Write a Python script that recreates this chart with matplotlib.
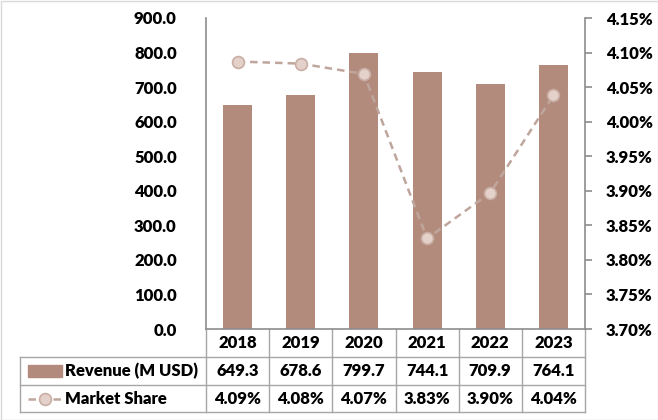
import numpy as np
from matplotlib import pyplot as plt
from matplotlib.patches import Rectangle
from matplotlib.ticker import FuncFormatter

years = ['2018', '2019', '2020', '2021', '2022', '2023']
revenue = [649.3, 678.6, 799.7, 744.1, 709.9, 764.1]
share = [4.087, 4.084, 4.069, 3.831, 3.897, 4.038]
share_labels = ['4.09%', '4.08%', '4.07%', '3.83%', '3.90%', '4.04%']

bar_color = '#B38B7D'
line_color = '#BFA69D'
mk_face = '#E4D1CA'
mk_edge = '#C8AEA5'
axis_gray = '#8C8C8C'

plt.rcParams['font.family'] = ['Lato', 'DejaVu Sans']
plt.rcParams['font.weight'] = 'heavy'
plt.rcParams['font.size'] = 12

W, H = 658, 420
fig = plt.figure(figsize=(W / 100, H / 100), dpi=100)

# pixel layout of the plot area
px_l, px_r, px_t, px_b = 206, 585, 18, 329
ax = fig.add_axes([px_l / W, 1 - px_b / H, (px_r - px_l) / W, (px_b - px_t) / H])
x = np.arange(len(years))
ax.bar(x, revenue, width=0.46, color=bar_color, zorder=2)
ax.set_xlim(-0.5, len(years) - 0.5)
ax.set_ylim(0, 900)
ax.set_yticks(np.arange(0, 901, 100))
ax.yaxis.set_major_formatter(FuncFormatter(lambda v, p: '%.1f' % v))
ax.tick_params(axis='y', length=0, pad=21)
ax.set_xticks([])
for s in ['top', 'right']:
    ax.spines[s].set_visible(False)
ax.spines['left'].set_color(axis_gray)
ax.spines['bottom'].set_color(axis_gray)
ax.spines['left'].set_linewidth(1.2)
ax.spines['bottom'].set_linewidth(1.2)

ax2 = ax.twinx()
ax2.plot(x, share, '--', color=line_color, lw=1.8, dashes=(3, 2),
         marker='o', ms=8.5, mfc=mk_face, mec=mk_edge, mew=1.2, zorder=3)
ax2.set_ylim(3.70, 4.15)
ax2.set_yticks(np.arange(3.70, 4.151, 0.05))
ax2.yaxis.set_major_formatter(FuncFormatter(lambda v, p: '%.2f%%' % v))
ax2.tick_params(axis='y', length=5, width=1.2, color=axis_gray, pad=10)
for s in ['top', 'left', 'bottom']:
    ax2.spines[s].set_visible(False)
ax2.spines['right'].set_color(axis_gray)
ax2.spines['right'].set_linewidth(1.2)

# data table drawn in pixel coordinates on an overlay axes
tab = fig.add_axes([0, 0, 1, 1], zorder=-1)
tab.set_xlim(0, W)
tab.set_ylim(H, 0)
tab.axis('off')
col_w = (px_r - px_l) / len(years)
cols = [px_l + i * col_w for i in range(len(years) + 1)]
row_y = [px_b, 357, 385, 412]
tab_left = 20
lc = '#A6A6A6'
for cx in cols:
    tab.plot([cx, cx], [row_y[0], row_y[-1]], color=lc, lw=1)
tab.plot([tab_left, tab_left], [row_y[1], row_y[-1]], color=lc, lw=1)
for ry in row_y[1:]:
    tab.plot([tab_left, px_r], [ry, ry], color=lc, lw=1)

for i in range(len(years)):
    cx = (cols[i] + cols[i + 1]) / 2
    tab.text(cx, (row_y[0] + row_y[1]) / 2, years[i], ha='center', va='center')
    tab.text(cx, (row_y[1] + row_y[2]) / 2, '%.1f' % revenue[i], ha='center', va='center')
    tab.text(cx, (row_y[2] + row_y[3]) / 2, share_labels[i], ha='center', va='center')

ry1 = (row_y[1] + row_y[2]) / 2
ry2 = (row_y[2] + row_y[3]) / 2
tab.add_patch(Rectangle((28, ry1 - 6), 34, 12, color=bar_color))
tab.text(65, ry1, 'Revenue (M USD)', ha='left', va='center')
tab.plot([28, 62], [ry2, ry2], '--', color=line_color, lw=1.8, dashes=(3, 2))
tab.plot([45], [ry2], 'o', ms=8.5, mfc=mk_face, mec=mk_edge, mew=1.2)
tab.text(65, ry2, 'Market Share', ha='left', va='center')

tab.add_patch(Rectangle((0.5, 0.5), W - 1, H - 1, fill=False, ec='#D9D9D9', lw=1))

plt.savefig('out.png', dpi=100)
plt.close()
